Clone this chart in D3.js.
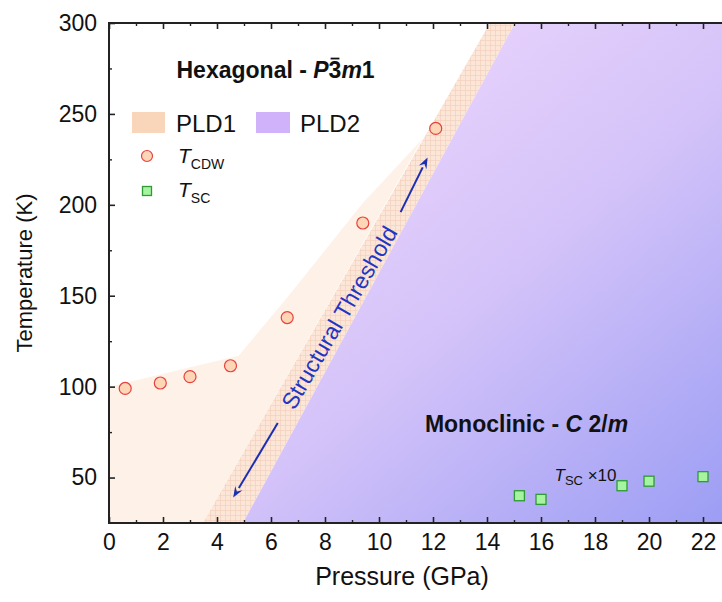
<!DOCTYPE html>
<html>
<head>
<meta charset="utf-8">
<script src="https://cdn.jsdelivr.net/npm/d3@7/dist/d3.min.js"></script>
<style>
  html, body { margin: 0; padding: 0; background: #fff; overflow: hidden; }
  svg { display: block; font-family: "Liberation Sans", Arial, sans-serif; }
</style>
</head>
<body>
<svg id="chart" width="722" height="602"></svg>
<script>
// ---------------- data ----------------
const cdwPressure = [0.6, 1.9, 3.0, 4.5, 6.6, 9.4, 12.1];
const cdwTemp     = [99, 102, 105.5, 111.5, 138, 190, 242];
const scPressure  = [15.2, 16.0, 19.0, 20.0, 22.0];
const scTemp10    = [40, 38, 45.5, 48, 50.5];   // Tsc x10
const xTicks = d3.range(0, 23, 2);
const xMinorTicks = d3.range(1, 25, 2);
const yTicks = [50, 100, 150, 200, 250, 300];
const yMinorTicks = [75, 125, 175, 225, 275];
// PLD1 (light) region upper boundary
const pld1Boundary = [[0, 100], [4.8, 117], [6.6, 149], [9.4, 201], [11.6, 236]];
// Hatched structural threshold band edges (bottom, top)
const bandLeft  = [[3.48, 25], [14.11, 300]];
const bandRight = [[4.96, 25], [15.04, 300]];
// annotation arrows [tail, head]
const arrowLow  = [[6.25, 80], [4.6, 39]];
const arrowHigh = [[10.8, 196], [11.8, 226]];

// ---------------- scales ----------------
const W = 722, H = 602;
const x = d3.scaleLinear().domain([0, 24]).range([109, 757]);
const y = d3.scaleLinear().domain([25, 300]).range([523, 23]);
const svg = d3.select("#chart");
const defs = svg.append("defs");

defs.append("clipPath").attr("id", "plotclip")
  .append("rect").attr("x", x(0)).attr("y", y(300))
  .attr("width", x(24) - x(0)).attr("height", y(25) - y(300));

const grad = defs.append("linearGradient").attr("id", "pld2grad")
  .attr("gradientUnits", "userSpaceOnUse")
  .attr("x1", 330).attr("y1", 60).attr("x2", 730).attr("y2", 530);
grad.append("stop").attr("offset", "0").attr("stop-color", "#edd6fd");
grad.append("stop").attr("offset", "0.45").attr("stop-color", "#d4c3f9");
grad.append("stop").attr("offset", "1").attr("stop-color", "#9a9cf4");

const pat = defs.append("pattern").attr("id", "hatch")
  .attr("patternUnits", "userSpaceOnUse").attr("width", 5).attr("height", 5);
pat.append("rect").attr("width", 5).attr("height", 5).attr("fill", "#fce6d7");
pat.append("path").attr("d", "M0,0.5 H5 M0.5,0 V5")
  .attr("stroke", "#f4d0bc").attr("stroke-width", 0.7);

const plot = svg.append("g").attr("clip-path", "url(#plotclip)");
const line = d3.line().x(d => x(d[0])).y(d => y(d[1]));

// PLD1 light region
const pld1Poly = [[0, 25]].concat(pld1Boundary, [bandLeft[0]]);
plot.append("path").attr("d", line(pld1Poly) + "Z").attr("fill", "#fef1e8");

// hatched band
const bandPoly = [bandLeft[0], bandLeft[1], bandRight[1], bandRight[0]];
plot.append("path").attr("d", line(bandPoly) + "Z").attr("fill", "url(#hatch)");

// PLD2 region
const pld2Poly = [bandRight[0], bandRight[1], [24, 300], [24, 25]];
plot.append("path").attr("d", line(pld2Poly) + "Z").attr("fill", "url(#pld2grad)");

// ---------------- axes ----------------
const axisColor = "#222";
const axisG = svg.append("g");
axisG.append("line").attr("x1", x(0)).attr("x2", W + 5).attr("y1", y(25)).attr("y2", y(25))
  .attr("stroke", axisColor).attr("stroke-width", 2);
axisG.append("line").attr("x1", x(0)).attr("x2", W + 5).attr("y1", y(300)).attr("y2", y(300))
  .attr("stroke", axisColor).attr("stroke-width", 2);
axisG.append("line").attr("x1", x(0)).attr("x2", x(0)).attr("y1", y(300) - 1).attr("y2", y(25) + 1)
  .attr("stroke", axisColor).attr("stroke-width", 2);

const bottomAxis = d3.axisBottom(x).tickValues(xTicks).tickSize(-6).tickPadding(11).tickFormat(d3.format("d"));
const gb = svg.append("g").attr("transform", `translate(0,${y(25)})`).call(bottomAxis);
gb.select(".domain").remove();
gb.selectAll(".tick line").attr("stroke", axisColor).attr("stroke-width", 1.6);
gb.selectAll(".tick text").attr("font-size", 23).attr("fill", "#111")
  .attr("font-family", "'Liberation Sans', Arial, sans-serif");
const bottomMinor = d3.axisBottom(x).tickValues(xMinorTicks).tickSize(-3).tickFormat("");
const gbm = svg.append("g").attr("transform", `translate(0,${y(25)})`).call(bottomMinor);
gbm.select(".domain").remove();
gbm.selectAll(".tick line").attr("stroke", axisColor).attr("stroke-width", 1.4);

const topAxis = d3.axisTop(x).tickValues(d3.range(0, 25, 2)).tickSize(-6).tickFormat("");
const gt = svg.append("g").attr("transform", `translate(0,${y(300)})`).call(topAxis);
gt.select(".domain").remove();
gt.selectAll(".tick line").attr("stroke", axisColor).attr("stroke-width", 1.6);
const topMinor = d3.axisTop(x).tickValues(xMinorTicks).tickSize(-3).tickFormat("");
const gtm = svg.append("g").attr("transform", `translate(0,${y(300)})`).call(topMinor);
gtm.select(".domain").remove();
gtm.selectAll(".tick line").attr("stroke", axisColor).attr("stroke-width", 1.4);

const leftAxis = d3.axisLeft(y).tickValues(yTicks).tickSize(-6).tickPadding(12).tickFormat(d3.format("d"));
const gl = svg.append("g").attr("transform", `translate(${x(0)},0)`).call(leftAxis);
gl.select(".domain").remove();
gl.selectAll(".tick line").attr("stroke", axisColor).attr("stroke-width", 1.6);
gl.selectAll(".tick text").attr("font-size", 23).attr("fill", "#111")
  .attr("font-family", "'Liberation Sans', Arial, sans-serif");
const leftMinor = d3.axisLeft(y).tickValues(yMinorTicks).tickSize(-3).tickFormat("");
const glm = svg.append("g").attr("transform", `translate(${x(0)},0)`).call(leftMinor);
glm.select(".domain").remove();
glm.selectAll(".tick line").attr("stroke", axisColor).attr("stroke-width", 1.4);

// axis titles
svg.append("text").attr("x", 402).attr("y", 585).attr("text-anchor", "middle")
  .attr("font-size", 25).attr("fill", "#111").text("Pressure (GPa)");
svg.append("text").attr("transform", `translate(32,${(y(25) + y(300)) / 2}) rotate(-90)`)
  .attr("text-anchor", "middle").attr("font-size", 22).attr("fill", "#111").text("Temperature (K)");

// ---------------- annotations ----------------
const blue = "#1c2fb2";
function arrow(a) {
  const [t, h] = a;
  const x1 = x(t[0]), y1 = y(t[1]), x2 = x(h[0]), y2 = y(h[1]);
  const ang = Math.atan2(y2 - y1, x2 - x1);
  const L = 11, hw = 4.2;
  const bx = x2 - L * Math.cos(ang), by = y2 - L * Math.sin(ang);
  svg.append("line").attr("x1", x1).attr("y1", y1).attr("x2", bx).attr("y2", by)
    .attr("stroke", blue).attr("stroke-width", 2);
  const px = -Math.sin(ang) * hw, py = Math.cos(ang) * hw;
  svg.append("path").attr("d", `M${x2},${y2} L${bx + px},${by + py} L${bx + 0.35 * L * Math.cos(ang)},${by + 0.35 * L * Math.sin(ang)} L${bx - px},${by - py} Z`)
    .attr("fill", blue);
}
arrow(arrowLow);
arrow(arrowHigh);
{
  const t1 = arrowLow[0], t2 = arrowHigh[0];
  const cx = (x(t1[0]) + x(t2[0])) / 2, cy = (y(t1[1]) + y(t2[1])) / 2;
  const ang = Math.atan2(y(t2[1]) - y(t1[1]), x(t2[0]) - x(t1[0])) * 180 / Math.PI;
  svg.append("text").attr("transform", `translate(${cx},${cy}) rotate(${ang})`)
    .attr("text-anchor", "middle").attr("dy", "0.35em")
    .attr("font-size", 23).attr("fill", "#2236c2").text("Structural Threshold");
}

// Phase labels
const hex = svg.append("text").attr("x", x(2.5)).attr("y", y(270))
  .attr("font-size", 23).attr("font-weight", "bold").attr("fill", "#111");
hex.append("tspan").text("Hexagonal - ");
hex.append("tspan").attr("font-style", "italic").text("P");
hex.append("tspan").text("3");
hex.append("tspan").attr("font-style", "italic").text("m");
hex.append("tspan").text("1");
{
  // overbar on the "3"
  const node = hex.node();
  const idx = "Hexagonal - P".length;
  try {
    const s = node.getStartPositionOfChar(idx), e = node.getEndPositionOfChar(idx);
    svg.append("line").attr("x1", s.x + 2).attr("x2", e.x - 2)
      .attr("y1", s.y - 19).attr("y2", s.y - 19)
      .attr("stroke", "#111").attr("stroke-width", 1.8);
  } catch (err) {}
}

const mono = svg.append("text").attr("x", x(11.7)).attr("y", y(75))
  .attr("font-size", 23).attr("font-weight", "bold").attr("fill", "#111");
mono.append("tspan").text("Monoclinic - ");
mono.append("tspan").attr("font-style", "italic").text("C");
mono.append("tspan").text(" 2/");
mono.append("tspan").attr("font-style", "italic").text("m");

const tscl = svg.append("text").attr("x", x(16.5)).attr("y", y(48))
  .attr("font-size", 17).attr("fill", "#111");
tscl.append("tspan").attr("font-style", "italic").text("T");
tscl.append("tspan").attr("font-size", 13).attr("dy", 4).text("SC");
tscl.append("tspan").attr("dy", -4).text(" \u00d710");

// ---------------- data points ----------------
const cdw = cdwPressure.map((p, i) => [p, cdwTemp[i]]);
const sc = scPressure.map((p, i) => [p, scTemp10[i]]);
svg.append("g").selectAll("circle").data(cdw).join("circle")
  .attr("cx", d => x(d[0])).attr("cy", d => y(d[1])).attr("r", 6)
  .attr("fill", "#fdd6b8").attr("stroke", "#e8413c").attr("stroke-width", 1.2);
svg.append("g").selectAll("rect").data(sc).join("rect")
  .attr("x", d => x(d[0]) - 5).attr("y", d => y(d[1]) - 5).attr("width", 10).attr("height", 10)
  .attr("fill", "#a6f3a0").attr("stroke", "#2f9a36").attr("stroke-width", 1.3);

// ---------------- legend ----------------
const lg = svg.append("g");
lg.append("rect").attr("x", 132).attr("y", 112).attr("width", 33).attr("height", 21).attr("fill", "#f9d6b9");
lg.append("text").attr("x", 176).attr("y", 132).attr("font-size", 24).attr("fill", "#111").text("PLD1");
lg.append("rect").attr("x", 256).attr("y", 112).attr("width", 34).attr("height", 21).attr("fill", "#cfb2fa");
lg.append("text").attr("x", 300).attr("y", 132).attr("font-size", 24).attr("fill", "#111").text("PLD2");
lg.append("circle").attr("cx", 147).attr("cy", 156).attr("r", 5.5)
  .attr("fill", "#fdd6b8").attr("stroke", "#e8413c").attr("stroke-width", 1.2);
const l1 = lg.append("text").attr("x", 178).attr("y", 163).attr("font-size", 21).attr("fill", "#111");
l1.append("tspan").attr("font-style", "italic").text("T");
l1.append("tspan").attr("font-size", 14).attr("dy", 6).text("CDW");
lg.append("rect").attr("x", 142.5).attr("y", 186.5).attr("width", 9).attr("height", 9)
  .attr("fill", "#a6f3a0").attr("stroke", "#2f9a36").attr("stroke-width", 1.3);
const l2 = lg.append("text").attr("x", 178).attr("y", 197).attr("font-size", 21).attr("fill", "#111");
l2.append("tspan").attr("font-style", "italic").text("T");
l2.append("tspan").attr("font-size", 14).attr("dy", 6).text("SC");
</script>
</body>
</html>
